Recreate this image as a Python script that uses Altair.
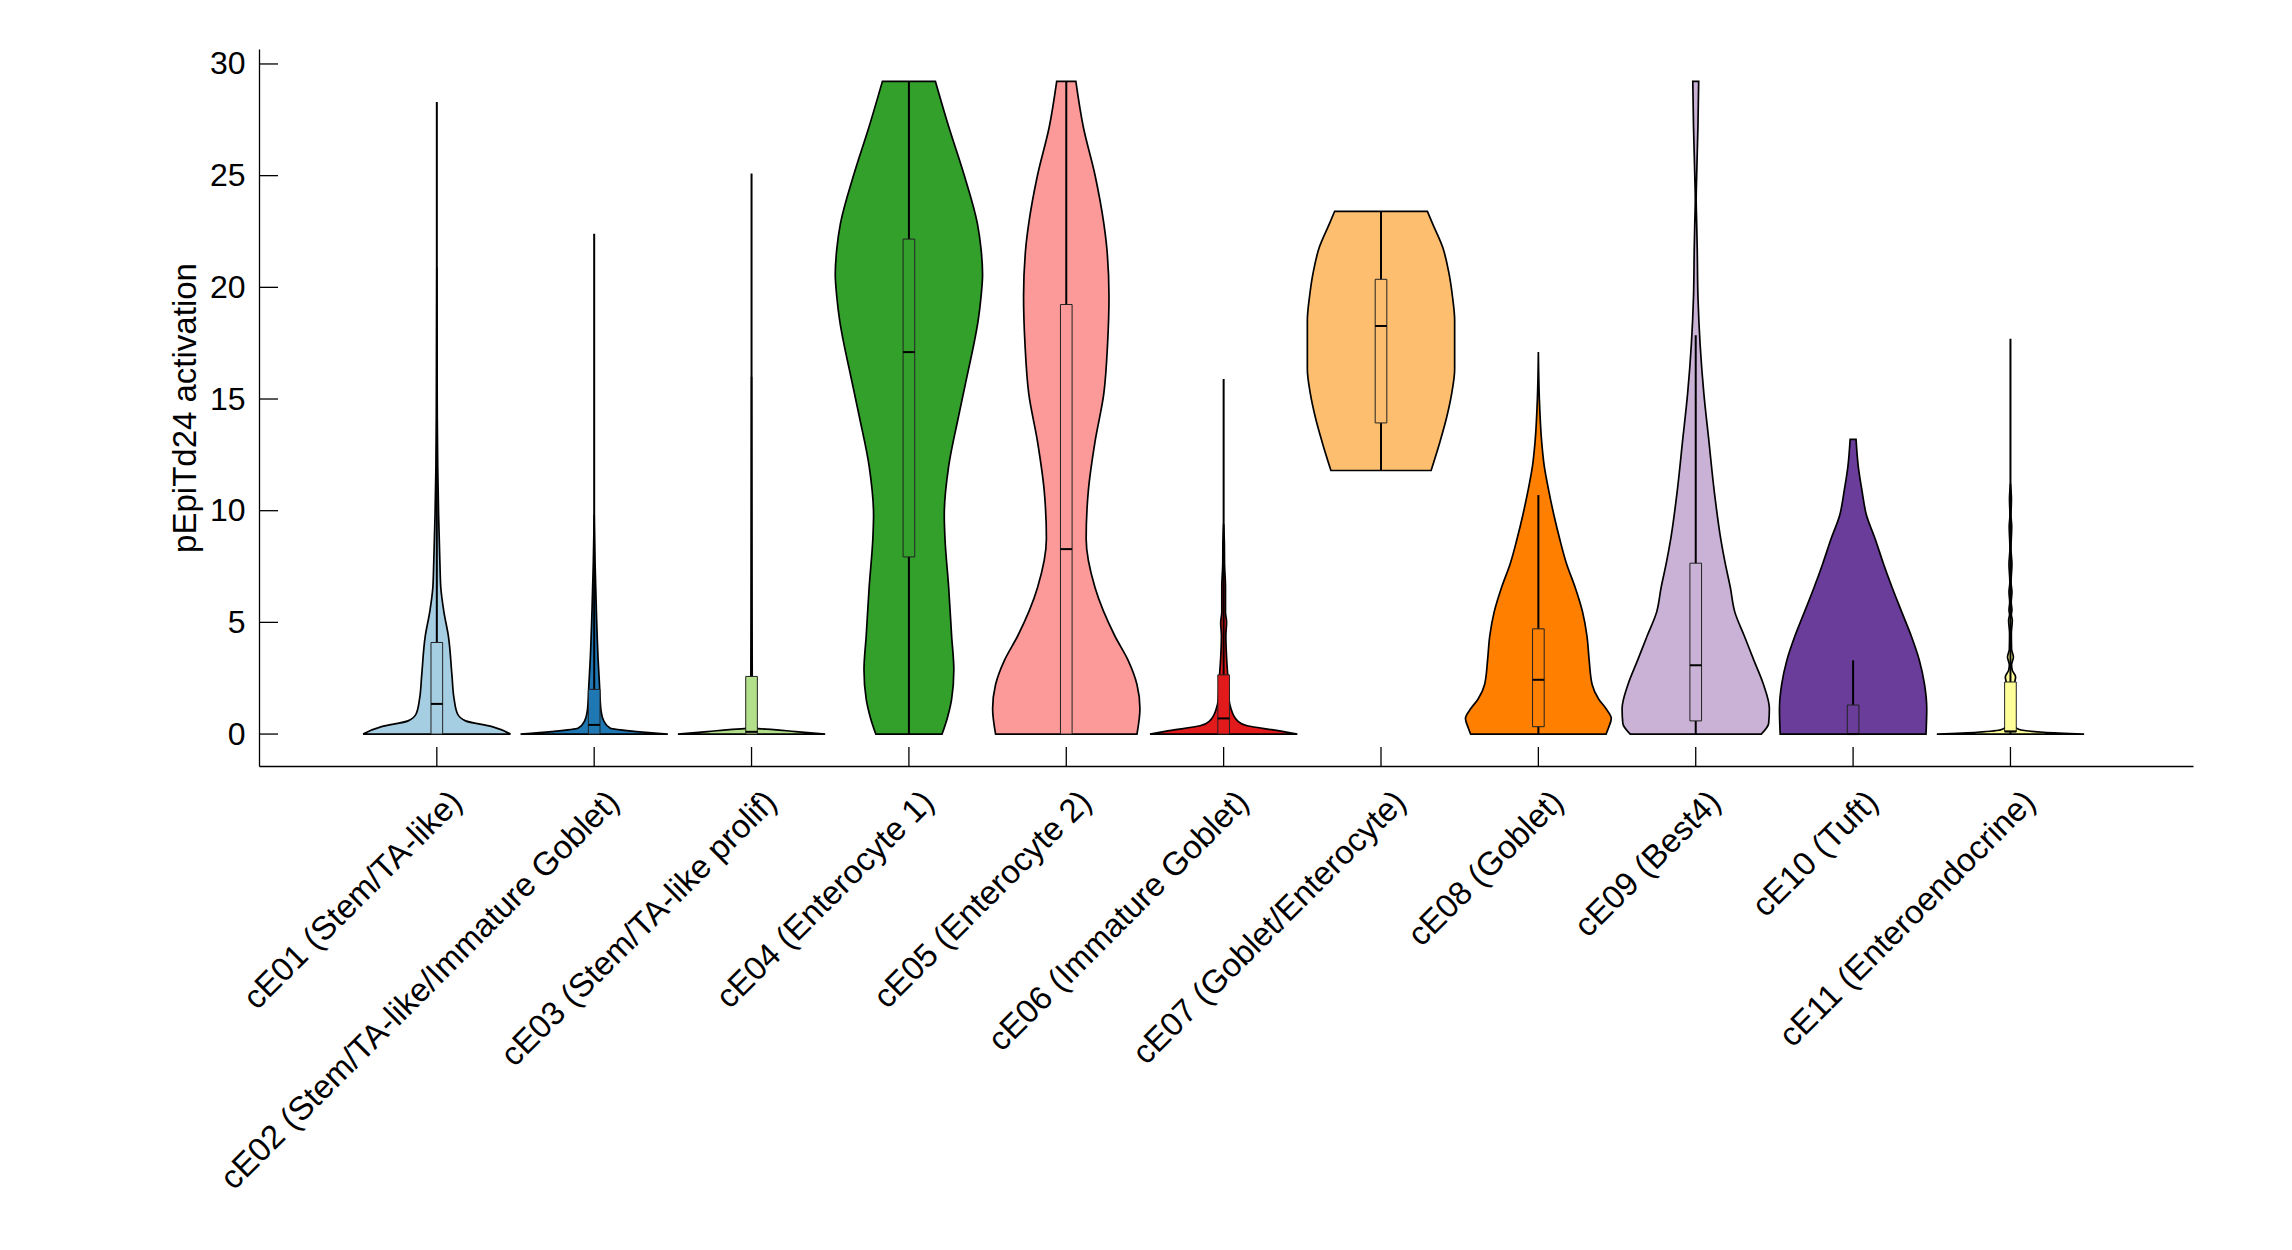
import json
import altair as alt
import pandas as pd

NAMES = [
    "cE01 (Stem/TA-like)",
    "cE02 (Stem/TA-like/Immature Goblet)",
    "cE03 (Stem/TA-like prolif)",
    "cE04 (Enterocyte 1)",
    "cE05 (Enterocyte 2)",
    "cE06 (Immature Goblet)",
    "cE07 (Goblet/Enterocyte)",
    "cE08 (Goblet)",
    "cE09 (Best4)",
    "cE10 (Tuft)",
    "cE11 (Enteroendocrine)",
]
COLORS = ["#a6cee3", "#1f78b4", "#b2df8a", "#33a02c", "#fb9a99", "#e31a1c",
          "#fdbf6f", "#ff7f00", "#cab2d6", "#6a3d9a", "#ffff99"]

# violin outlines: activation value and relative half-width (1 = widest)
CE01_Y = [0, 0.33, 0.59, 0.91, 1.56, 2.65, 4.39, 5.47, 6.56, 7.65, 9.82, 12.0, 14.2, 17.4, 20.9]
CE01_W = [1.0, 0.75, 0.39, 0.28, 0.235, 0.205, 0.157, 0.096, 0.054, 0.042, 0.024, 0.012, 0.006, 0.003, 0.0]
CE02_Y = [0, 0.11, 0.26, 0.59, 1.13, 2.22, 3.30, 5.47, 7.65, 9.82]
CE02_W = [1.0, 0.58, 0.22, 0.13, 0.09, 0.072, 0.054, 0.03, 0.012, 0.0]
CE03_Y = [0, 0.11, 0.2, 0.26, 0.5, 2.0, 5.0, 10.0, 16.0]
CE03_W = [1.0, 0.6, 0.3, 0.06, 0.015, 0.01, 0.006, 0.003, 0.0]
CE04_Y = [0, 0.70, 1.56, 2.87, 4.39, 6.56, 8.73, 9.82, 11.99, 14.16, 16.34, 17.42, 18.51, 19.6, 20.57, 21.7, 22.85, 25.03, 27.2, 29.22]
CE04_W = [0.45, 0.52, 0.58, 0.61, 0.58, 0.54, 0.49, 0.48, 0.54, 0.67, 0.81, 0.88, 0.94, 0.98, 1.0, 0.98, 0.93, 0.75, 0.54, 0.36]
CE05_Y = [0, 1.13, 2.22, 3.30, 4.39, 6.56, 8.73, 10.91, 13.08, 15.25, 17.42, 19.6, 21.77, 22.85, 25.03, 27.2, 29.22]
CE05_W = [0.96, 1.0, 0.96, 0.84, 0.66, 0.39, 0.27, 0.30, 0.39, 0.51, 0.56, 0.58, 0.55, 0.51, 0.39, 0.23, 0.13]
CE06_Y = [0, 0.15, 0.37, 0.59, 1.13, 1.56, 2.43, 3.30, 4.39, 5.0, 5.47, 6.56, 7.65, 8.5, 9.4]
CE06_W = [1.0, 0.74, 0.32, 0.19, 0.10, 0.073, 0.06, 0.042, 0.03, 0.04, 0.025, 0.025, 0.012, 0.01, 0.0]
CE07_Y = [11.80, 13.08, 14.16, 15.25, 16.34, 17.42, 18.51, 19.6, 20.68, 21.77, 22.85, 23.40]
CE07_W = [0.68, 0.80, 0.89, 0.96, 1.0, 1.0, 1.0, 0.97, 0.92, 0.84, 0.70, 0.63]
CE08_Y = [0, 0.26, 0.70, 1.13, 1.56, 2.22, 3.30, 4.39, 5.47, 6.56, 7.65, 8.73, 9.82, 10.91, 11.99, 13.08, 15.03, 17.1]
CE08_W = [0.92, 0.95, 0.99, 0.92, 0.82, 0.73, 0.69, 0.66, 0.60, 0.50, 0.38, 0.29, 0.21, 0.14, 0.08, 0.045, 0.013, 0.0]
CE09_Y = [0, 0.48, 1.13, 2.22, 3.30, 4.39, 5.47, 6.56, 7.65, 8.73, 10.91, 13.08, 15.25, 17.42, 19.6, 21.77, 22.85, 23.94, 25.03, 27.2, 29.22]
CE09_W = [0.89, 0.99, 1.0, 0.92, 0.79, 0.66, 0.53, 0.47, 0.40, 0.34, 0.25, 0.18, 0.11, 0.06, 0.03, 0.02, 0.013, 0.006, 0.013, 0.03, 0.04]
CE10_Y = [0, 1.13, 2.22, 3.30, 4.39, 5.47, 6.56, 7.65, 8.73, 9.82, 10.91, 11.99, 13.19]
CE10_W = [0.99, 1.0, 0.97, 0.90, 0.79, 0.66, 0.53, 0.41, 0.30, 0.18, 0.12, 0.07, 0.04]
CE11_Y = [0, 0.08, 0.2, 0.4, 1.0, 2.0, 2.3, 2.55, 2.85, 3.1, 3.45, 3.8, 4.5, 5.1, 5.35, 5.55, 5.9, 6.36, 6.8, 7.6, 8.3, 9.3, 9.8, 10.5, 11.2]
CE11_W = [1.0, 0.45, 0.12, 0.05, 0.03, 0.03, 0.055, 0.07, 0.025, 0.015, 0.04, 0.015, 0.012, 0.025, 0.012, 0.02, 0.01, 0.02, 0.008, 0.02, 0.007, 0.017, 0.007, 0.013, 0.0]

# box-plot statistics
WHISK_LO = [0, 0, 0, 0, 0, 0, 11.8, 0, 0, 0, 0]
Q1 = [0, 0, 0, 7.93, 0, 0, 13.93, 0.33, 0.59, 0, 0.1]
MEDIAN = [1.35, 0.41, 0.1, 17.1, 8.28, 0.70, 18.27, 2.43, 3.08, 0.0, 0.12]
Q3 = [4.1, 2.0, 2.58, 22.16, 19.23, 2.65, 20.36, 4.71, 7.65, 1.30, 2.33]
WHISK_HI = [28.3, 22.4, 25.1, 29.2, 29.2, 15.9, 23.4, 10.7, 17.86, 3.30, 17.7]

Y_TICKS = [0, 5, 10, 15, 20, 25, 30]

PROFILES = [(CE01_Y, CE01_W), (CE02_Y, CE02_W), (CE03_Y, CE03_W), (CE04_Y, CE04_W),
            (CE05_Y, CE05_W), (CE06_Y, CE06_W), (CE07_Y, CE07_W), (CE08_Y, CE08_W),
            (CE09_Y, CE09_W), (CE10_Y, CE10_W), (CE11_Y, CE11_W)]

HALF = 0.468   # max violin half-width in category units
BOXH = 0.037   # box half-width

rows = []
for i, (ys, ws) in enumerate(PROFILES):
    for y, w in zip(ys, ws):
        rows.append({"cat": NAMES[i], "idx": i, "y": y, "lo": i - w * HALF, "hi": i + w * HALF})
violins = pd.DataFrame(rows)

boxes = pd.DataFrame({
    "cat": NAMES, "idx": list(range(len(NAMES))),
    "blo": [i - BOXH for i in range(len(NAMES))],
    "bhi": [i + BOXH for i in range(len(NAMES))],
    "wlo": WHISK_LO, "q1": Q1, "med": MEDIAN, "q3": Q3, "whi": WHISK_HI,
})
yticks = pd.DataFrame({"v": Y_TICKS})

W, H = 1934, 717
FONT = "Liberation Sans"
FS = 33
FS_Y = 32

xs = alt.Scale(domain=[-1.13, 11.16], nice=False, zero=False)
ys_ = alt.Scale(domain=[-1.43, 30.67], nice=False, zero=False)
cs = alt.Scale(domain=NAMES, range=COLORS)

x_axis = alt.Axis(
    values=list(range(len(NAMES))),
    labelExpr=json.dumps(NAMES) + "[datum.value]",
    title=None, ticks=False, grid=False, domain=True,
    domainColor="black", domainWidth=1.3,
    labelAngle=315, labelAlign="right", labelBaseline="top",
    labelPadding=19, labelOffset=8, labelFontSize=FS, labelFont=FONT,
    labelColor="black", labelLimit=2000, labelOverlap=False, labelFlush=False,
)
y_axis = alt.Axis(
    values=Y_TICKS, title="pEpiTd24 activation", ticks=False, grid=False,
    domain=True, domainColor="black", domainWidth=1.3,
    labelFontSize=FS_Y, labelFont=FONT, labelColor="black", labelPadding=14,
    labelOverlap=False,
    titleFontSize=FS, titleFont=FONT, titleFontWeight="normal", titleColor="black",
    titleX=-74, titleY=H / 2, titleAngle=270, titleAlign="center", titleBaseline="middle",
)

violin = alt.Chart(violins).mark_area(
    orient="horizontal", interpolate="monotone", stroke="black", strokeWidth=1.7, opacity=1
).encode(
    y=alt.Y("y:Q", scale=ys_, axis=y_axis),
    x=alt.X("lo:Q", scale=xs, axis=x_axis),
    x2="hi:Q",
    color=alt.Color("cat:N", scale=cs, legend=None),
    detail="idx:N",
)

whisk = alt.Chart(boxes).mark_rule(color="black", strokeWidth=2).encode(
    x=alt.X("idx:Q", scale=xs, axis=x_axis),
    y=alt.Y("wlo:Q", scale=ys_, axis=y_axis),
    y2="whi:Q",
)

box = alt.Chart(boxes).mark_rect(stroke="#222222", strokeWidth=1).encode(
    x=alt.X("blo:Q", scale=xs, axis=x_axis),
    x2="bhi:Q",
    y=alt.Y("q1:Q", scale=ys_, axis=y_axis),
    y2="q3:Q",
    color=alt.Color("cat:N", scale=cs, legend=None),
)

med = alt.Chart(boxes).mark_rule(color="black", strokeWidth=2).encode(
    x=alt.X("blo:Q", scale=xs, axis=x_axis),
    x2="bhi:Q",
    y=alt.Y("med:Q", scale=ys_, axis=y_axis),
)

xticks = alt.Chart(boxes).mark_rule(color="black", strokeWidth=1.3).encode(
    x=alt.X("idx:Q", scale=xs, axis=x_axis),
    y=alt.value(H - 19),
    y2=alt.value(H),
)

yt = alt.Chart(yticks).mark_rule(color="black", strokeWidth=1.3).encode(
    y=alt.Y("v:Q", scale=ys_, axis=y_axis),
    x=alt.value(0),
    x2=alt.value(19),
)

chart = alt.layer(violin, whisk, box, med, xticks, yt).properties(
    width=W, height=H,
    autosize=alt.AutoSizeParams(type="none"),
    padding={"left": 259, "top": 49, "right": 99, "bottom": 484},
    background="white",
).configure_view(stroke=None)

chart.save("out.html", embed_options={"renderer": "svg", "actions": False})
